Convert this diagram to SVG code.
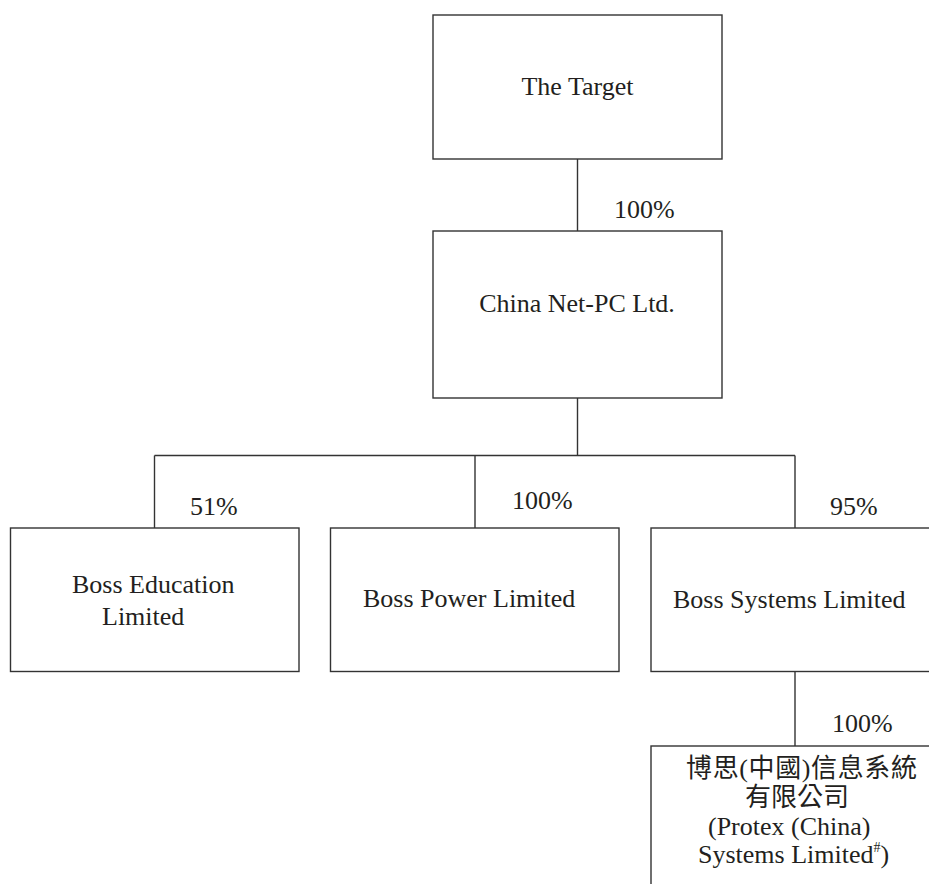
<svg xmlns="http://www.w3.org/2000/svg" width="929" height="884" viewBox="0 0 929 884">
<style>
.box{fill:#fff;stroke:#333;stroke-width:1.4}
.ln{stroke:#333;stroke-width:1.4;fill:none}
text{font-family:"Liberation Serif","Noto Sans CJK TC",serif;font-size:26px;fill:#231f20}
.cjk{font-family:"Liberation Serif","Noto Sans CJK TC",serif}
</style>
<rect width="929" height="884" fill="#fff"/>
<g id="connectors">
<line class="ln" x1="577.5" y1="159" x2="577.5" y2="231"/>
<line class="ln" x1="577.5" y1="398" x2="577.5" y2="455.5"/>
<line class="ln" x1="154.5" y1="455.5" x2="795" y2="455.5"/>
<line class="ln" x1="154.5" y1="455.5" x2="154.5" y2="528"/>
<line class="ln" x1="475" y1="455.5" x2="475" y2="528"/>
<line class="ln" x1="795" y1="455.5" x2="795" y2="528"/>
<line class="ln" x1="795" y1="671.5" x2="795" y2="746"/>
<text x="614" y="218">100%</text>
<text x="190" y="515">51%</text>
<text x="512" y="509">100%</text>
<text x="830" y="515">95%</text>
<text x="832" y="732">100%</text>
</g>
<g id="target">
<rect class="box" x="433" y="15" width="289" height="144"/>
<text x="577.5" y="95" text-anchor="middle">The Target</text>
</g>
<g id="chinanet">
<rect class="box" x="433" y="231" width="289" height="167"/>
<text x="577" y="312" text-anchor="middle">China Net-PC Ltd.</text>
</g>
<g id="bosseducation">
<rect class="box" x="10.5" y="528" width="288.5" height="143.5"/>
<text x="72" y="593">Boss Education</text>
<text x="102" y="625">Limited</text>
</g>
<g id="bosspower">
<rect class="box" x="330.5" y="528" width="288.5" height="143.5"/>
<text x="363" y="607">Boss Power Limited</text>
</g>
<g id="bosssystems">
<rect class="box" x="651" y="528" width="289" height="143.5"/>
<text x="673" y="608">Boss Systems Limited</text>
</g>
<g id="protex">
<rect class="box" x="651" y="746" width="289" height="160"/>
<text class="cjk" x="686" y="777" textLength="231" lengthAdjust="spacing">博思(中國)信息系統</text>
<text class="cjk" x="745" y="806">有限公司</text>
<text x="708" y="835">(Protex (China)</text>
<text x="698" y="863">Systems Limited<tspan font-size="14" dy="-11">#</tspan><tspan dy="11">)</tspan></text>
</g>
</svg>
